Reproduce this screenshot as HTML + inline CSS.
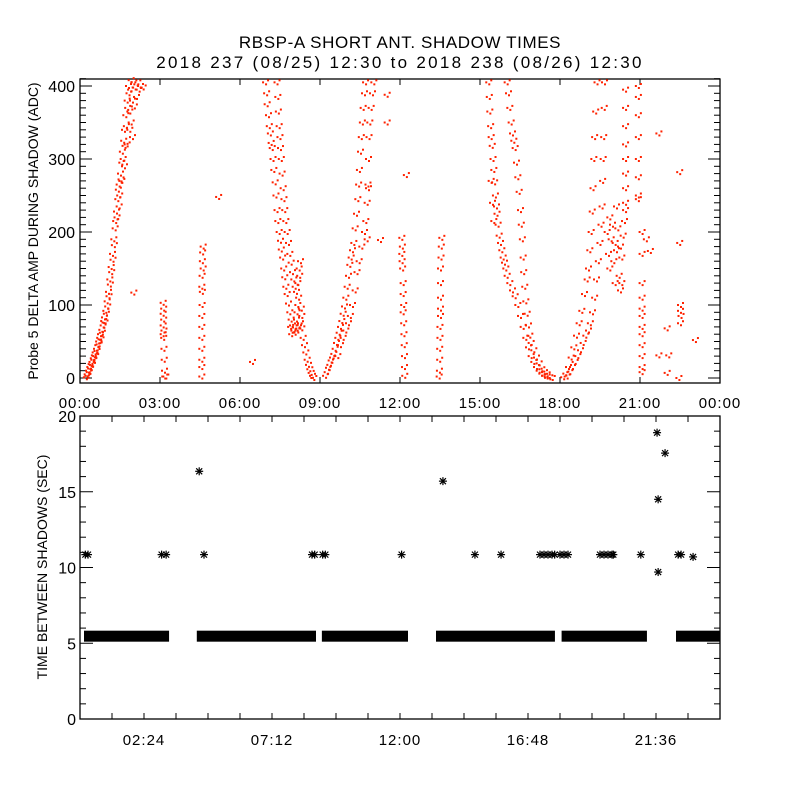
<!DOCTYPE html>
<html><head><meta charset="utf-8"><style>
html,body{margin:0;padding:0;background:#fff}
svg{display:block}
text{font-family:"Liberation Sans",sans-serif;fill:#000}
</style></head><body>
<svg id="c" width="800" height="800" viewBox="0 0 800 800" xmlns="http://www.w3.org/2000/svg">
<rect x="0" y="0" width="800" height="800" fill="#fff"/>
<text x="400" y="48" font-size="17" letter-spacing="0.6" text-anchor="middle">RBSP-A SHORT ANT. SHADOW TIMES</text>
<text x="400" y="68" font-size="17" letter-spacing="2.3" text-anchor="middle">2018 237 (08/25) 12:30 to 2018 238 (08/26) 12:30</text>
<text transform="translate(38,231) rotate(-90)" font-size="14" text-anchor="middle">Probe 5 DELTA AMP DURING SHADOW (ADC)</text>
<text transform="translate(47,567) rotate(-90)" font-size="14" text-anchor="middle">TIME BETWEEN SHADOWS (SEC)</text>
<g id="top"></g>
<g id="bot"></g>
</svg>
<script>
// ---- data ----
const topXTickLabels = ["00:00","03:00","06:00","09:00","12:00","15:00","18:00","21:00","00:00"];
const topYTickLabels = [0,100,200,300,400];
const botXTickLabels = ["02:24","07:12","12:00","16:48","21:36"];
const botXTickHours = [2.4,7.2,12.0,16.8,21.6];
const botYTickLabels = [0,5,10,15,20];

const bandA = [[0.22,1],[0.25,5],[0.28,3],[0.3,10],[0.33,8],[0.35,15],[0.38,13],[0.4,19],[0.43,22],[0.45,18],[0.48,27],[0.5,25],[0.52,31],[0.55,35],[0.57,30],[0.6,40],[0.62,37],[0.65,45],[0.68,50],[0.7,46],[0.72,55],[0.75,60],[0.77,53],[0.8,66],[0.82,62],[0.85,72],[0.87,78],[0.9,83],[0.92,76],[0.95,92],[0.97,88],[1.0,105],[1.02,98],[1.05,118],[1.07,112],[1.1,135],[1.12,128],[1.15,152],[1.17,145],[1.2,170],[1.22,162],[1.25,190],[1.27,182],[1.3,205],[1.32,215],[1.35,228],[1.37,220],[1.4,245],[1.42,258],[1.45,265],[1.47,250],[1.5,280],[1.52,272],[1.55,295],[1.57,310],[1.6,300],[1.62,325],[1.65,340],[1.67,318],[1.7,360],[1.72,345],[1.75,380],[1.77,370],[1.8,400],[1.82,390],[1.85,365],[1.88,395],[1.9,350],[1.95,380],[2.0,405],[2.02,372],[2.05,398],[2.1,385],[2.15,405],[2.2,395],[2.25,400],[2.35,398],[1.9,410],[1.95,330],[1.85,340],[1.75,320],[1.65,290],[1.55,270],[1.45,235],[2.0,117]];
const spikes1 = [[3.1,103],[3.12,95],[3.1,88],[3.12,80],[3.1,72],[3.13,65],[3.1,60],[3.12,55],[3.13,40],[3.14,25],[3.15,10],[3.16,2],[3.2,2],[4.6,180],[4.58,172],[4.57,160],[4.6,150],[4.56,140],[4.55,125],[4.57,118],[4.56,100],[4.55,85],[4.55,70],[4.55,55],[4.55,40],[4.55,25],[4.55,15],[4.55,2],[5.18,248],[6.45,22]];
const bandB1 = [[6.94,405],[6.98,390],[7.0,375],[7.05,360],[7.08,345],[7.12,335],[7.15,322],[7.19,315],[7.22,300],[7.25,285],[7.3,268],[7.33,250],[7.37,230],[7.4,215],[7.45,200],[7.5,188],[7.53,176],[7.58,165],[7.62,150],[7.66,138],[7.7,125],[7.75,115],[7.8,102],[7.85,90],[7.9,80],[7.95,72],[8.0,65],[8.05,62],[7.88,70],[7.92,60]];
const bandB2 = [[7.37,405],[7.4,385],[7.42,365],[7.45,345],[7.48,330],[7.5,315],[7.53,300],[7.56,280],[7.6,260],[7.63,245],[7.66,230],[7.7,215],[7.75,200],[7.8,185],[7.85,170],[7.9,158],[7.95,145],[8.0,135],[8.05,125],[8.1,118],[8.15,130],[8.2,150],[8.25,160],[8.22,140],[8.18,110],[8.15,100],[8.12,90],[8.1,80],[8.05,70],[8.15,65],[8.2,72],[8.25,75],[8.3,68],[8.35,55],[8.4,45],[8.45,35],[8.5,25],[8.55,18],[8.6,12],[8.65,7],[8.7,3],[8.75,0],[8.3,85],[8.28,95]];
const bandC1 = [[9.19,3],[9.25,8],[9.3,14],[9.35,18],[9.4,24],[9.45,28],[9.5,33],[9.55,40],[9.6,48],[9.65,55],[9.7,62],[9.75,70],[9.8,78],[9.85,88],[9.9,98],[9.95,110],[10.0,125],[10.05,140],[10.1,155],[10.15,165],[10.2,175],[10.25,185],[10.3,205],[10.35,225],[10.4,245],[10.43,265],[10.46,285],[10.5,310],[10.53,330],[10.57,350],[10.6,370],[10.65,390],[10.69,405]];
const bandC2 = [[9.65,30],[9.75,45],[9.85,55],[9.95,65],[10.05,75],[10.12,85],[10.2,100],[10.3,120],[10.37,145],[10.45,160],[10.55,180],[10.65,200],[10.7,215],[10.75,240],[10.78,265],[10.8,300],[10.82,330],[10.85,350],[10.9,370],[10.95,390],[11.0,405],[10.8,260],[10.75,190],[11.5,388],[11.5,350],[11.25,189]];
const spikes2 = [[12.05,192],[12.07,180],[12.05,170],[12.06,160],[12.08,150],[12.1,130],[12.1,115],[12.12,100],[12.1,90],[12.12,75],[12.13,60],[12.14,45],[12.15,30],[12.15,15],[12.16,3],[12.22,278],[13.55,192],[13.53,180],[13.52,165],[13.5,150],[13.5,130],[13.5,110],[13.5,95],[13.5,85],[13.48,70],[13.48,55],[13.47,40],[13.47,25],[13.46,10],[13.45,2]];
const bandD1 = [[15.31,405],[15.33,385],[15.35,365],[15.38,345],[15.4,330],[15.44,318],[15.47,300],[15.5,285],[15.53,268],[15.56,250],[15.6,235],[15.62,225],[15.66,210],[15.7,195],[15.75,185],[15.8,175],[15.85,165],[15.9,158],[15.95,150],[16.0,140],[16.1,130],[16.2,120],[16.3,112],[16.4,100],[16.5,85],[16.6,70],[16.7,55],[16.8,42],[16.9,30],[17.0,22],[17.1,15],[17.2,10],[17.3,6],[17.4,3],[17.5,2],[17.6,1],[17.69,0],[15.4,270],[15.45,240],[15.5,215]];
const bandD2 = [[16.0,405],[16.05,390],[16.1,370],[16.15,350],[16.2,335],[16.25,325],[16.3,315],[16.35,295],[16.4,275],[16.45,255],[16.5,230],[16.53,210],[16.57,190],[16.6,165],[16.62,145],[16.66,125],[16.7,105],[16.75,88],[16.8,72],[16.85,58],[16.9,48],[17.0,38],[17.1,28],[17.2,20],[17.3,12],[17.4,8],[17.5,5]];
const bandE1 = [[18.12,1],[18.2,6],[18.3,15],[18.4,28],[18.5,42],[18.6,58],[18.7,75],[18.8,92],[18.9,115],[19.0,135],[19.05,150],[19.1,175],[19.15,200],[19.19,228],[19.22,260],[19.25,300],[19.28,330],[19.32,365],[19.37,405]];
const bandE2 = [[18.25,2],[18.35,8],[18.45,15],[18.55,22],[18.65,30],[18.75,38],[18.85,48],[18.95,58],[19.05,65],[19.12,75],[19.2,90],[19.28,110],[19.35,135],[19.42,160],[19.48,185],[19.52,210],[19.56,235],[19.58,270],[19.6,300],[19.62,330],[19.64,370],[19.65,405]];
const lateDots = [[19.75,200],[19.8,170],[19.85,150],[19.9,190],[19.95,210],[20.0,160],[20.05,130],[20.1,175],[20.15,205],[20.2,140],[20.25,120],[20.3,165],[20.35,195],[20.4,215],[19.85,220],[20.05,185],[20.25,180],[20.3,130],[20.1,235],[20.44,395],[20.44,370],[20.44,345],[20.44,320],[20.44,300],[20.44,280],[20.44,260],[20.44,240],[20.44,230],[20.92,400],[20.92,385],[20.92,360],[20.92,330],[20.92,300],[20.92,275],[20.92,250],[20.92,245],[21.06,200],[21.06,170],[21.06,130],[21.06,110],[21.06,95],[21.06,85],[21.06,70],[21.06,60],[21.06,45],[21.06,30],[21.06,15],[21.06,8],[21.69,335],[22.47,282],[22.47,185],[22.5,100],[22.5,92],[22.52,85],[22.5,75],[22.0,68],[21.69,31],[22.06,31],[22.0,7],[22.44,0],[23.06,52],[21.37,174],[21.22,190]];

const gapSegStart = [0.15,4.38,9.07,13.35,18.06,22.35];
const gapSegEnd   = [3.34,8.85,12.3,17.81,21.26,24.0];
const gapBaseValue = 5.5;
const starHours  = [0.2,0.3,3.06,3.23,4.47,4.65,8.7,8.8,9.1,9.2,12.06,13.61,14.81,15.79,17.25,17.4,17.55,17.7,17.8,18.0,18.15,18.3,19.5,19.65,19.8,19.95,20.0,21.03,21.64,21.94,21.68,21.68,22.43,22.54,22.99];
const starValues = [10.85,10.85,10.85,10.85,16.35,10.85,10.85,10.85,10.85,10.85,10.85,15.7,10.85,10.85,10.85,10.85,10.85,10.85,10.85,10.85,10.85,10.85,10.85,10.85,10.85,10.85,10.85,10.85,18.9,17.55,14.5,9.7,10.85,10.85,10.7];

// ---- scales ----
const X0=80,X1=720;
const xS = h => X0 + h/24*(X1-X0);
const yT = v => 378 - v*0.73;
const yB = v => 719 - v*(303/20);
const NS="http://www.w3.org/2000/svg";
function mk(tag,attrs,parent){const e=document.createElementNS(NS,tag);for(const k in attrs)e.setAttribute(k,attrs[k]);parent.appendChild(e);return e;}

const topG=document.getElementById('top'), botG=document.getElementById('bot');

// ---- top panel ----
const tf=mk('rect',{x:80,y:79,width:640,height:304,fill:'none',stroke:'#000','stroke-width':1.3},topG);


for(let v=0;v<=410;v+=10){
  const L=(v%100===0)?12:6;
  const tl=mk('line',{x1:80,x2:80+L,y1:yT(v),y2:yT(v),stroke:'#000','stroke-width':1},topG);
  
  
  const tr=mk('line',{x1:720-L,x2:720,y1:yT(v),y2:yT(v),stroke:'#000','stroke-width':1},topG);
  
  
}
topYTickLabels.forEach(v=>{
  const t=mk('text',{x:75,y:yT(v)+6,'font-size':16,'text-anchor':'end'},topG);t.textContent=v;
  
  
});
topXTickLabels.forEach((lab,i)=>{
  const x=xS(i*3);
  const a=mk('line',{x1:x,x2:x,y1:383,y2:377,stroke:'#000'},topG);
  
  
  const b=mk('line',{x1:x,x2:x,y1:79,y2:85,stroke:'#000'},topG);
  
  
  const t=mk('text',{x:x,y:408,'font-size':15,'letter-spacing':1,'text-anchor':'middle'},topG);t.textContent=lab;
  
  
});
const clusterDx=[-2,1,3], clusterDy=[0,2,-2];
[bandA,spikes1,bandB1,bandB2,bandC1,bandC2,spikes2,bandD1,bandD2,bandE1,bandE2,lateDots].forEach(arr=>{
  arr.forEach(p=>{
    const cx=xS(p[0]), cy=yT(Math.min(p[1],408));
    const g=mk('g',{fill:'#ff2200'},topG);
    
    
    for(let k=0;k<3;k++){
      mk('rect',{x:cx-1+clusterDx[k],y:Math.min(cy-1+clusterDy[k],380),width:2,height:2},g);
    }
  });
});

// ---- bottom panel ----
const bf=mk('rect',{x:80,y:416,width:640,height:303,fill:'none',stroke:'#000','stroke-width':1.3},botG);


for(let v=0;v<=20;v++){
  const L=(v%5===0)?13:6;
  const tl=mk('line',{x1:80,x2:80+L,y1:yB(v),y2:yB(v),stroke:'#000'},botG);
  
  
  const tr=mk('line',{x1:720-L,x2:720,y1:yB(v),y2:yB(v),stroke:'#000'},botG);
  
  
}
botYTickLabels.forEach(v=>{
  const t=mk('text',{x:76,y:yB(v)+6,'font-size':16,'text-anchor':'end'},botG);t.textContent=v;
  
  
});
for(let h=0;h<=24.01;h+=1.2){
  const x=xS(h);
  const a=mk('line',{x1:x,x2:x,y1:719,y2:713,stroke:'#000'},botG);
  
  
  const b=mk('line',{x1:x,x2:x,y1:416,y2:422,stroke:'#000'},botG);
  
  
}
botXTickLabels.forEach((lab,i)=>{
  const t=mk('text',{x:xS(botXTickHours[i]),y:745,'font-size':15,'letter-spacing':1,'text-anchor':'middle'},botG);t.textContent=lab;
  
  
});
gapSegStart.forEach((s,i)=>{
  const e=gapSegEnd[i];
  const r=mk('rect',{x:xS(s),y:yB(gapBaseValue)-5,width:xS(e)-xS(s),height:11,fill:'#000'},botG);
  
  
});
function star(cx,cy){
  const g=mk('g',{stroke:'#000','stroke-width':1.2},botG);
  
  
  mk('line',{x1:cx-4,x2:cx+4,y1:cy,y2:cy},g);
  mk('line',{x1:cx,x2:cx,y1:cy-4,y2:cy+4},g);
  mk('line',{x1:cx-3,x2:cx+3,y1:cy-3,y2:cy+3},g);
  mk('line',{x1:cx-3,x2:cx+3,y1:cy+3,y2:cy-3},g);
}
starHours.forEach((h,i)=>star(xS(h),yB(starValues[i])));
</script>
</body></html>
